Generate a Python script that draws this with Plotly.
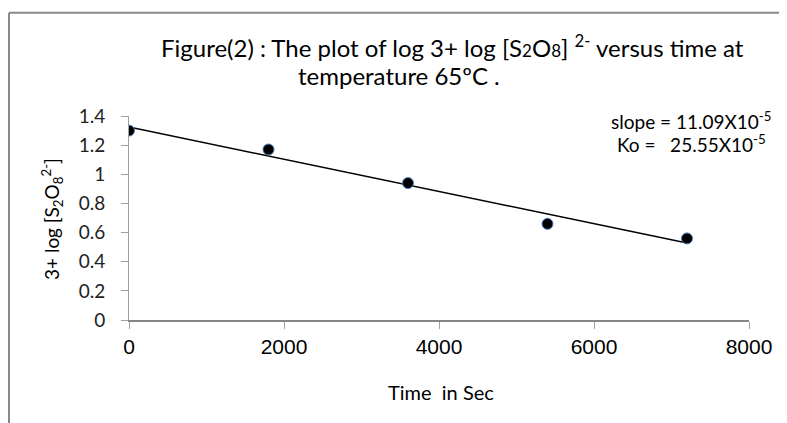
import numpy as np
import plotly.graph_objects as go

# ---- data ----
time_s = [0, 1800, 3600, 5400, 7200]
log_conc = [1.30, 1.17, 0.94, 0.66, 0.56]
x_ticks = [0, 2000, 4000, 6000, 8000]
y_ticks = [0, 0.2, 0.4, 0.6, 0.8, 1.0, 1.2, 1.4]
y_tick_labels = ["0", "0.2", "0.4", "0.6", "0.8", "1", "1.2", "1.4"]
slope_text = "slope = 11.09X10<sup>-5</sup>"
ko_text = "Ko =   25.55X10<sup>-5</sup>"

# linear trendline (least squares)
coef = np.polyfit(time_s, log_conc, 1)
trend_x = [min(time_s), max(time_s)]
trend_y = [float(np.polyval(coef, v)) for v in trend_x]

OFF = 8  # page body margin
W, H = 787 - OFF, 423 - OFF
L, R, T, B = 129, 749, 116, 320  # plot area edges in screenshot pixels


def px(xp):
    return (xp - L) / (R - L)


def py(yp):
    return (B - yp) / (B - T)


TEXT_FONT = "Lato, 'Open Sans', sans-serif"

fig = go.Figure()
fig.add_trace(go.Scatter(x=trend_x, y=trend_y, mode="lines",
                         line=dict(color="black", width=1.5),
                         hoverinfo="skip", showlegend=False))
fig.add_trace(go.Scatter(x=time_s, y=log_conc, mode="markers",
                         marker=dict(size=11, color="black",
                                     line=dict(color="#4a7ebb", width=1)),
                         showlegend=False))

fig.update_layout(
    width=W, height=H,
    margin=dict(l=L - OFF, r=W - (R - OFF), t=T - OFF, b=H - (B - OFF), pad=0),
    paper_bgcolor="white", plot_bgcolor="white",
    showlegend=False,
    xaxis=dict(range=[0, 8000], tickvals=x_ticks, ticktext=[str(v) for v in x_ticks],
               showgrid=False, zeroline=False, showline=True, linecolor="#868686",
               linewidth=2, ticks="outside", ticklen=7, tickcolor="#a0a0a0",
               tickfont=dict(family="Liberation Sans, Arial, sans-serif", size=21, color="black"),
               fixedrange=True),
    yaxis=dict(range=[0, 1.4], tickvals=y_ticks, ticktext=y_tick_labels,
               showgrid=False, zeroline=False, showline=True, linecolor="#a0a0a0",
               linewidth=1, ticks="outside", ticklen=7, tickcolor="#a0a0a0",
               tickfont=dict(family=TEXT_FONT, size=19, color="#222"),
               ticklabelstandoff=12,
               fixedrange=True),
)

# outer chart frame (top and left borders)
fig.add_shape(type="line", xref="paper", yref="paper",
              x0=px(9), x1=px(800), y0=py(12.7), y1=py(12.7),
              line=dict(color="#888888", width=2))
fig.add_shape(type="line", xref="paper", yref="paper",
              x0=px(9), x1=px(9), y0=py(12.7), y1=py(440),
              line=dict(color="#888888", width=2))

# title lines
fig.add_annotation(xref="paper", yref="paper", x=px(159), y=py(46),
                   xanchor="left", yanchor="middle", showarrow=False,
                   text="Figure(2) : The plot of log 3+ log [S<span style='font-size:17px'>2</span>O<span style='font-size:17px'>8</span>] <sup>2-</sup> versus time at",
                   font=dict(family=TEXT_FONT, size=24, color="black"))
fig.add_annotation(xref="paper", yref="paper", x=px(296), y=py(75),
                   xanchor="left", yanchor="middle", showarrow=False,
                   text="temperature 65ºC .",
                   font=dict(family=TEXT_FONT, size=24, color="black"))

# slope / Ko annotation
fig.add_annotation(xref="paper", yref="paper", x=px(609), y=py(120),
                   xanchor="left", yanchor="middle", showarrow=False,
                   text=slope_text, font=dict(family=TEXT_FONT, size=19, color="black"))
fig.add_annotation(xref="paper", yref="paper", x=px(615), y=py(143),
                   xanchor="left", yanchor="middle", showarrow=False,
                   text=ko_text, font=dict(family=TEXT_FONT, size=19, color="black"))

# axis titles
fig.add_annotation(xref="paper", yref="paper", x=px(441), y=py(392),
                   xanchor="center", yanchor="middle", showarrow=False,
                   text="Time  in Sec", font=dict(family=TEXT_FONT, size=20, color="black"))
fig.add_annotation(xref="paper", yref="paper", x=px(52), y=py(219),
                   xanchor="center", yanchor="middle", showarrow=False, textangle=-90,
                   text="3+ log [S<sub>2</sub>O<sub>8</sub><sup>2-</sup>]",
                   font=dict(family=TEXT_FONT, size=19, color="black"))

fig.write_html("out.html")
